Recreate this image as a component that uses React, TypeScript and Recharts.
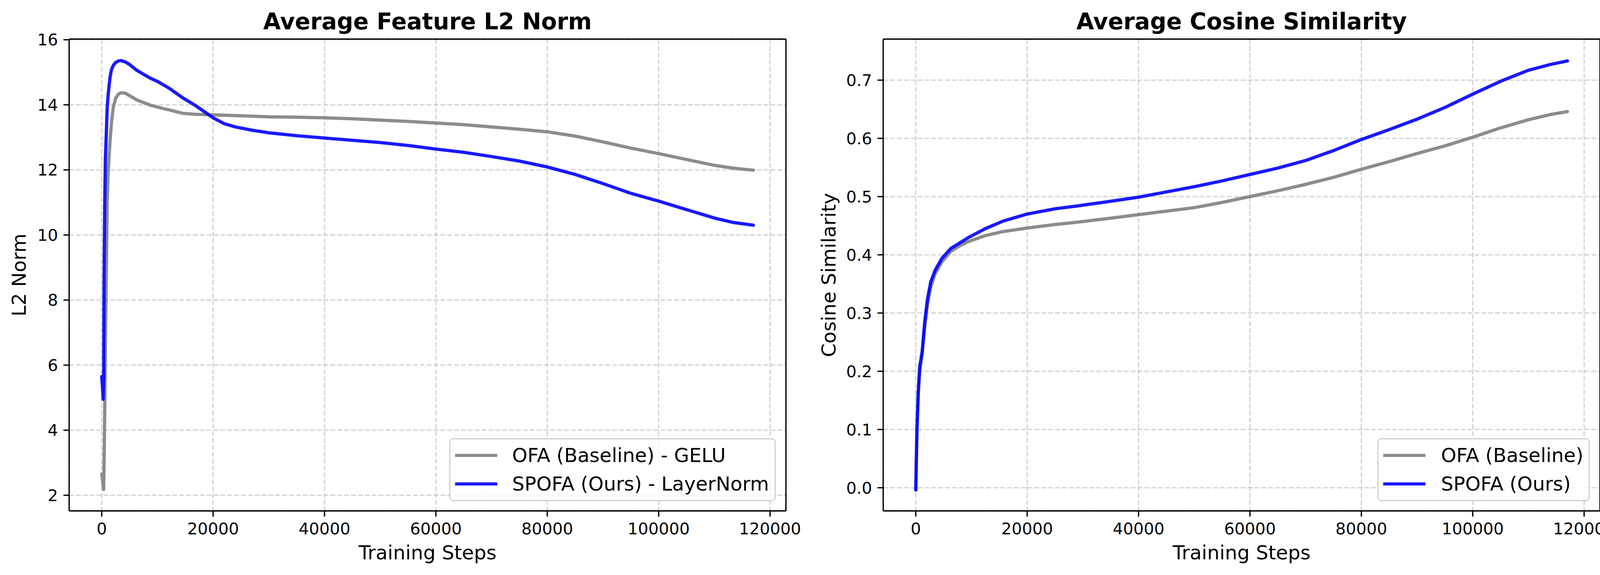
import React from 'react';
import { LineChart, Line, XAxis, YAxis, CartesianGrid, Legend, ReferenceLine } from 'recharts';

// ---------- data ----------
const X_TICKS = [0, 20000, 40000, 60000, 80000, 100000, 120000];
const L2_TICKS = [2, 4, 6, 8, 10, 12, 14, 16];
const COS_TICKS = [0, 0.1, 0.2, 0.3, 0.4, 0.5, 0.6, 0.7];

const STEPS_L2 = [
  0, 150, 250, 350, 420, 540, 650, 800, 980, 1150, 1300, 1500, 1750, 2100, 2500, 3000, 3500, 4200, 5000,
  6300, 7500, 8700, 10000, 12200, 14500, 16800, 18500, 20000, 22000, 24000, 27000, 30000, 35000, 40000,
  45000, 50000, 55000, 60000, 65000, 70000, 75000, 80000, 85000, 90000, 95000, 100000, 105000, 110000,
  113500, 117000,
];
const OFA_L2 = [
  2.65, 2.5, 2.35, 2.18, 3.0, 4.6, 6.5, 8.5, 11.0, 11.9, 12.35, 12.9, 13.45, 13.95, 14.2, 14.33, 14.37, 14.36, 14.28,
  14.15, 14.07, 13.99, 13.93, 13.84, 13.74, 13.71, 13.7, 13.69, 13.68, 13.67, 13.65, 13.63, 13.62, 13.6,
  13.57, 13.53, 13.49, 13.44, 13.39, 13.32, 13.25, 13.17, 13.04, 12.86, 12.67, 12.5, 12.32, 12.14,
  12.05, 11.99,
];
const SPOFA_L2 = [
  5.65, 5.3, 4.95, 5.6, 8.7, 10.96, 12.33, 13.0, 13.9, 14.3, 14.55, 14.85, 15.08, 15.22, 15.3, 15.35, 15.36, 15.32, 15.24,
  15.06, 14.94, 14.82, 14.72, 14.5, 14.22, 13.98, 13.78, 13.6, 13.42, 13.32, 13.22, 13.14, 13.05, 12.98,
  12.91, 12.84, 12.75, 12.64, 12.54, 12.41, 12.27, 12.09, 11.86, 11.58, 11.28, 11.04, 10.78, 10.52,
  10.38, 10.3,
];

const STEPS_COS = [
  0, 200, 450, 700, 1150, 1600, 2100, 2700, 3500, 4700, 6300, 8000, 9500, 12500, 15700, 20000, 25000, 29000,
  35000, 40000, 45000, 50000, 55000, 60000, 65000, 70000, 75000, 80000, 85000, 90000, 95000, 100000, 105000,
  110000, 114000, 117000,
];
const OFA_COS = [
  -0.003, 0.09, 0.16, 0.2, 0.23, 0.275, 0.315, 0.345, 0.368, 0.388, 0.406, 0.416, 0.423, 0.433, 0.44, 0.446, 0.452, 0.456,
  0.463, 0.469, 0.475, 0.481, 0.49, 0.5, 0.51, 0.521, 0.533, 0.547, 0.56, 0.574, 0.587, 0.602, 0.618,
  0.632, 0.641, 0.646,
];
const SPOFA_COS = [
  -0.004, 0.1, 0.167, 0.207, 0.234, 0.284, 0.324, 0.354, 0.374, 0.394, 0.411, 0.421, 0.43, 0.445, 0.458, 0.47, 0.479, 0.484,
  0.492, 0.499, 0.508, 0.517, 0.527, 0.538, 0.549, 0.562, 0.579, 0.598, 0.615, 0.633, 0.653, 0.676, 0.698,
  0.717, 0.727, 0.733,
];

const l2Data = STEPS_L2.map((s, i) => ({ step: s, ofa: OFA_L2[i], spofa: SPOFA_L2[i] }));
const cosData = STEPS_COS.map((s, i) => ({ step: s, ofa: OFA_COS[i], spofa: SPOFA_COS[i] }));

// ---------- style ----------
const FONT = 'DejaVu Sans';
const TICK_FS = 41.67;
const LABEL_FS = 50;
const TITLE_FS = 58.33;
const LW = 8.33;
const SPINE = 3.33;
const X_DOMAIN: [number, number] = [-5850, 122850];
const GRAY = '#808080';
const BLUE = '#0000ff';

const LegendBox = (props: any) => {
  const { payload, textLeft } = props;
  const items = payload || [];
  return (
    <div
      style={{
        position: 'relative',
        width: '100%',
        height: '100%',
        boxSizing: 'border-box',
        border: '3.33px solid #d0d0d0',
        borderRadius: 10,
        background: 'rgba(255,255,255,0.8)',
        fontFamily: FONT,
        fontSize: LABEL_FS,
        color: '#000',
      }}
    >
      {items.map((it: any, i: number) => (
        <div
          key={i}
          style={{
            position: 'absolute',
            left: 0,
            top: 41 + i * 73 - 30,
            height: 60,
            width: '100%',
          }}
        >
          <div
            style={{
              position: 'absolute',
              left: 12,
              width: 108,
              height: LW,
              top: 30 - LW / 2,
              background: it.color,
              opacity: 0.9,
            }}
          />
          <span style={{ position: 'absolute', left: textLeft, top: 0, whiteSpace: 'nowrap', lineHeight: '60px' }}>
            {it.value}
          </span>
        </div>
      ))}
    </div>
  );
};

type PanelProps = {
  data: any[];
  yDomain: [number, number];
  yTicks: number[];
  yFmt: (v: number) => string;
  title: string;
  yLabel: string;
  ofaName: string;
  spofaName: string;
  width: number;
  marginLeft: number;
  yLabelX: number;
  legendLeft: number;
  legendWidth: number;
  textLeft: number;
};

const Panel = (p: PanelProps) => {
  const plotLeft = p.marginLeft + 120;
  const plotRight = p.width - 68;
  const cx = (plotLeft + plotRight) / 2;
  return (
    <LineChart
      width={p.width}
      height={1471}
      data={p.data}
      margin={{ top: 100, right: 68, bottom: 0, left: p.marginLeft }}
      style={{ fontFamily: FONT }}
    >
      <CartesianGrid stroke="#b0b0b0" strokeOpacity={0.6} strokeWidth={3} strokeDasharray="12.3 5.3" />
      <XAxis
        dataKey="step"
        type="number"
        domain={X_DOMAIN}
        allowDataOverflow
        ticks={X_TICKS}
        interval={0}
        height={164}
        tickSize={14.6}
        tickMargin={16}
        tick={{ fill: '#000', fontSize: TICK_FS, fontFamily: FONT }}
        tickLine={{ stroke: '#000', strokeWidth: SPINE }}
        axisLine={{ stroke: '#000', strokeWidth: SPINE }}
      />
      <YAxis
        type="number"
        domain={p.yDomain}
        allowDataOverflow
        ticks={p.yTicks}
        interval={0}
        width={120}
        tickSize={14.6}
        tickMargin={14}
        tickFormatter={p.yFmt}
        tick={{ fill: '#000', fontSize: TICK_FS, fontFamily: FONT }}
        tickLine={{ stroke: '#000', strokeWidth: SPINE }}
        axisLine={{ stroke: '#000', strokeWidth: SPINE }}
      />
      <ReferenceLine y={p.yDomain[1]} stroke="#000" strokeWidth={SPINE} ifOverflow="visible" />
      <ReferenceLine x={X_DOMAIN[1]} stroke="#000" strokeWidth={SPINE} ifOverflow="visible" />
      <Line
        type="linear"
        dataKey="ofa"
        name={p.ofaName}
        stroke={GRAY}
        strokeOpacity={0.9}
        strokeWidth={LW}
        strokeLinejoin="round"
        strokeLinecap="round"
        dot={false}
        activeDot={false}
        isAnimationActive={false}
      />
      <Line
        type="linear"
        dataKey="spofa"
        name={p.spofaName}
        stroke={BLUE}
        strokeOpacity={0.9}
        strokeWidth={LW}
        strokeLinejoin="round"
        strokeLinecap="round"
        dot={false}
        activeDot={false}
        isAnimationActive={false}
      />
      <Legend
        layout="vertical"
        align="center"
        verticalAlign="middle"
        wrapperStyle={{ left: p.legendLeft, top: 1121, width: p.legendWidth, height: 161 }}
        content={(lp: any) => <LegendBox {...lp} textLeft={p.textLeft} />}
      />
      <text x={cx} y={75} textAnchor="middle" fontSize={TITLE_FS} fontWeight="bold" fontFamily={FONT} fill="#000">
        {p.title}
      </text>
      <text x={cx} y={1431} textAnchor="middle" fontSize={LABEL_FS} fontFamily={FONT} fill="#000">
        Training Steps
      </text>
      <text
        x={p.yLabelX}
        y={703.5}
        textAnchor="middle"
        fontSize={LABEL_FS}
        fontFamily={FONT}
        fill="#000"
        transform={`rotate(-90, ${p.yLabelX}, 703.5)`}
      >
        {p.yLabel}
      </text>
    </LineChart>
  );
};

export default function App() {
  return (
    <div style={{ position: 'absolute', left: 0, top: 0, width: 4164, height: 1471, background: '#fff' }}>
      <div style={{ position: 'absolute', left: 0, top: 0 }}>
        <Panel
          data={l2Data}
          yDomain={[1.52, 16.02]}
          yTicks={L2_TICKS}
          yFmt={(v: number) => String(v)}
          title="Average Feature L2 Norm"
          yLabel="L2 Norm"
          ofaName="OFA (Baseline) - GELU"
          spofaName="SPOFA (Ours) - LayerNorm"
          width={2080}
          marginLeft={57}
          yLabelX={66}
          legendLeft={1150}
          legendWidth={836}
          textLeft={158}
        />
      </div>
      <div style={{ position: 'absolute', left: 2080, top: 0 }}>
        <Panel
          data={cosData}
          yDomain={[-0.0398, 0.7705]}
          yTicks={COS_TICKS}
          yFmt={(v: number) => v.toFixed(1)}
          title="Average Cosine Similarity"
          yLabel="Cosine Similarity"
          ofaName="OFA (Baseline)"
          spofaName="SPOFA (Ours)"
          width={2084}
          marginLeft={61}
          yLabelX={59}
          legendLeft={1446}
          legendWidth={544}
          textLeft={160}
        />
      </div>
    </div>
  );
}
